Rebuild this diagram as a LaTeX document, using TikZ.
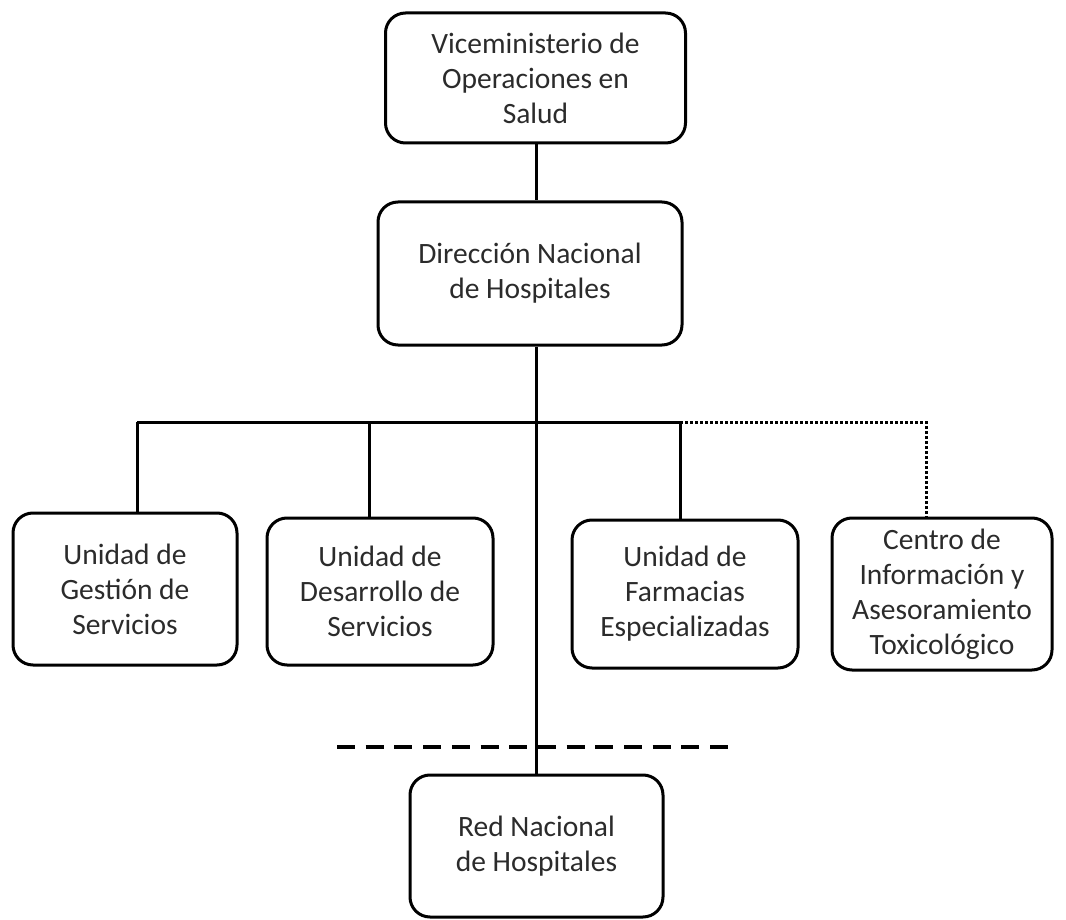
\documentclass[tikz,border=0pt]{standalone}
\usepackage{fontspec}
\setmainfont{Carlito}
\definecolor{txt}{HTML}{2B2B2B}
\tikzset{
  box/.style={draw=black, line width=3pt, rounded corners=20pt, align=center,
    text=txt, font=\fontsize{29.5}{35}\selectfont, inner sep=0pt},
  link/.style={draw=black, line width=3pt},
  dotlink/.style={draw=black, line width=3pt, dash pattern=on 2.5pt off 2.5pt},
  dashlink/.style={draw=black, line width=4pt, dash pattern=on 18pt off 10.7pt}
}
\begin{document}
\begin{tikzpicture}[x=1pt,y=-1pt]
\useasboundingbox (0,0) rectangle (1066,920);
\node[box, minimum width=300pt, minimum height=130pt] (vm) at (535.5,78) {Viceministerio de\\Operaciones en\\Salud};
\node[box, minimum width=304pt, minimum height=143pt] (dn) at (530,273.5) {Dirección Nacional\\de Hospitales};
\node[box, minimum width=224pt, minimum height=152pt] (ug) at (125,589) {Unidad de\\Gestión de\\Servicios};
\node[box, minimum width=226pt, minimum height=147pt] (ud) at (380,591.5) {Unidad de\\Desarrollo de\\Servicios};
\node[box, minimum width=226pt, minimum height=148pt] (uf) at (685,594) {Unidad de\\Farmacias\\Especializadas};
\node[box, minimum width=220pt, minimum height=152pt] (ci) at (942,594) {Centro de\\Información y\\Asesoramiento\\Toxicológico};
\node[box, minimum width=253pt, minimum height=142pt] (rn) at (536.5,846) {Red Nacional\\de Hospitales};

\coordinate (top) at (536,143);
\coordinate (b1) at (137,422);
\coordinate (b2) at (369,422);
\coordinate (b3) at (680,422);
\coordinate (b4) at (926,422);
\coordinate (dl) at (337,747);
\coordinate (dr) at (728,747);

\draw[link] (top |- vm.south) -- (top |- dn.north);
\draw[link] (top |- dn.south) -- (top |- rn.north);
\draw[link] (b1) -- (b3);
\draw[link] (b1) -- (b1 |- ug.north);
\draw[link] (b2) -- (b2 |- ud.north);
\draw[link] (b3) -- (b3 |- uf.north);
\draw[dotlink] (b3) -- (b4) -- (b4 |- ci.north);
\draw[dashlink] (dl) -- (dr);
\end{tikzpicture}
\end{document}
